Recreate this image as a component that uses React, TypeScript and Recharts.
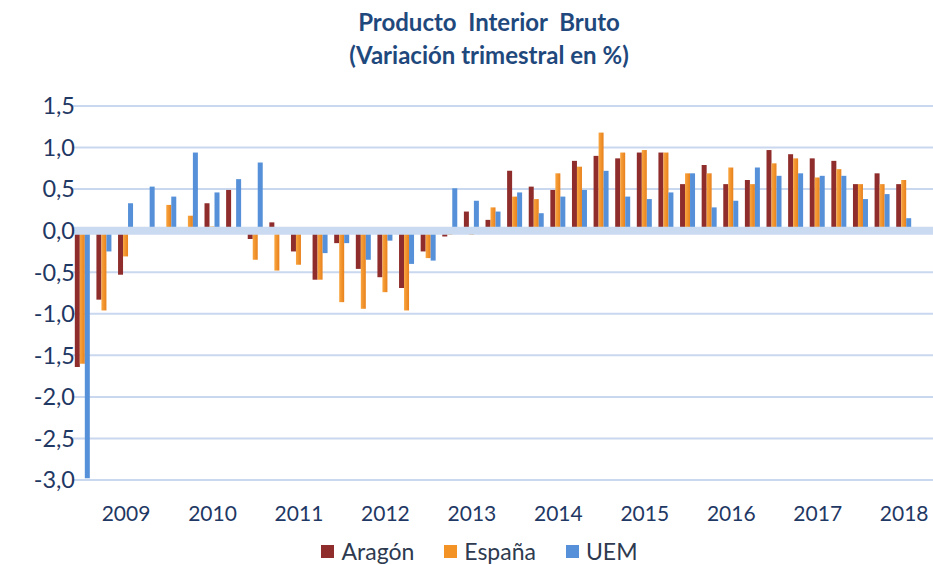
import React from "react";
import { BarChart, Bar, XAxis, YAxis, CartesianGrid, ReferenceLine, Legend } from "recharts";

const categories = [
  "2009 T1", "2009 T2", "2009 T3", "2009 T4",
  "2010 T1", "2010 T2", "2010 T3", "2010 T4",
  "2011 T1", "2011 T2", "2011 T3", "2011 T4",
  "2012 T1", "2012 T2", "2012 T3", "2012 T4",
  "2013 T1", "2013 T2", "2013 T3", "2013 T4",
  "2014 T1", "2014 T2", "2014 T3", "2014 T4",
  "2015 T1", "2015 T2", "2015 T3", "2015 T4",
  "2016 T1", "2016 T2", "2016 T3", "2016 T4",
  "2017 T1", "2017 T2", "2017 T3", "2017 T4",
  "2018 T1", "2018 T2", "2018 T3",
];

const aragon = [
  -1.64, -0.83, -0.53, -0.02,
  0.02, 0.02, 0.33, 0.49,
  -0.10, 0.10, -0.25, -0.59,
  -0.15, -0.46, -0.56, -0.69,
  -0.25, -0.07, 0.23, 0.13,
  0.72, 0.53, 0.49, 0.84,
  0.90, 0.87, 0.94, 0.94,
  0.56, 0.79, 0.56, 0.61,
  0.97, 0.92, 0.87, 0.84,
  0.56, 0.69, 0.56,
];

const espana = [
  -1.60, -0.96, -0.31, -0.03,
  0.31, 0.18, 0.05, 0.01,
  -0.35, -0.48, -0.41, -0.59,
  -0.86, -0.94, -0.74, -0.96,
  -0.33, -0.05, -0.05, 0.28,
  0.41, 0.38, 0.69, 0.77,
  1.18, 0.94, 0.97, 0.94,
  0.69, 0.69, 0.76, 0.56,
  0.81, 0.87, 0.64, 0.74,
  0.56, 0.56, 0.61,
];

const uem = [
  -2.98, -0.25, 0.33, 0.53,
  0.41, 0.94, 0.46, 0.62,
  0.82, 0.0, 0.0, -0.27,
  -0.15, -0.35, -0.12, -0.40,
  -0.36, 0.51, 0.36, 0.23,
  0.46, 0.21, 0.41, 0.49,
  0.72, 0.41, 0.38, 0.46,
  0.69, 0.28, 0.36, 0.76,
  0.66, 0.69, 0.66, 0.66,
  0.38, 0.44, 0.15,
];

const yTicks = [1.5, 1.0, 0.5, 0.0, -0.5, -1.0, -1.5, -2.0, -2.5, -3.0];

const seriesNames = ["Aragón", "España", "UEM"];
const seriesColors = ["#8E2D2B", "#F39325", "#5590D8"];

const data = categories.map((c, i) => ({
  cat: c,
  aragon: aragon[i],
  espana: espana[i],
  uem: uem[i],
}));

const NAVY = "#1F3864";
const FONT = "Lato, 'Open Sans', sans-serif";

const yearTick = (v: string) => (v.endsWith("T3") ? v.slice(0, 4) : "");

const LegendContent = () => (
  <div
    style={{
      display: "flex",
      justifyContent: "center",
      alignItems: "center",
      fontFamily: FONT,
      fontSize: 23,
      color: "#2E3A4F",
      paddingTop: 7,
      paddingLeft: 26,
    }}
  >
    {seriesNames.map((n, i) => (
      <div key={n} style={{ display: "flex", alignItems: "center", marginRight: i < 2 ? 30 : 0 }}>
        <div style={{ width: 13, height: 13, background: seriesColors[i], marginRight: 7 }} />
        <span>{n}</span>
      </div>
    ))}
  </div>
);

export default function App() {
  return (
    <div style={{ position: "absolute", left: 0, top: 0, width: 933, height: 565, background: "#fff", overflow: "hidden" }}>
      <div
        style={{
          position: "absolute",
          left: 239,
          top: 5,
          width: 500,
          textAlign: "center",
          fontFamily: FONT,
          fontWeight: 700,
          fontSize: 24,
          lineHeight: "33px",
          color: "#1F497D",
          whiteSpace: "pre",
        }}
      >
        <div>{"Producto  Interior  Bruto"}</div>
        <div>(Variación trimestral en %)</div>
      </div>
      <BarChart
        width={933}
        height={565}
        data={data}
        margin={{ top: 106, right: 0, bottom: 0, left: 0 }}
        barCategoryGap="13%"
        barGap={0}
      >
        <defs>
          <linearGradient id="gEsp" x1="0" y1="0" x2="1" y2="0">
            <stop offset="0%" stopColor="#F9A53F" />
            <stop offset="100%" stopColor="#E8811C" />
          </linearGradient>
        </defs>
        <CartesianGrid horizontal vertical={false} stroke="#C9D8EE" strokeWidth={2} />
        <XAxis
          dataKey="cat"
          interval={0}
          tickFormatter={yearTick}
          axisLine={false}
          tickLine={false}
          tickSize={0}
          tickMargin={26}
          height={50}
          padding={{ left: 0, right: 18 }}
          tick={{ fontSize: 21, fill: NAVY, fontFamily: FONT }}
        />
        <YAxis
          domain={[-3, 1.5]}
          ticks={yTicks}
          interval={0}
          tickFormatter={(v: number) => v.toFixed(1).replace(".", ",")}
          axisLine={false}
          tickLine={false}
          tickSize={0}
          tickMargin={-3}
          width={72}
          tick={{ fontSize: 23.5, fill: NAVY, fontFamily: FONT }}
        />
        <Legend verticalAlign="bottom" content={<LegendContent />} wrapperStyle={{ height: 35 }} />
        <Bar dataKey="aragon" name="Aragón" fill={seriesColors[0]} isAnimationActive={false} />
        <Bar dataKey="espana" name="España" fill="url(#gEsp)" isAnimationActive={false} />
        <Bar dataKey="uem" name="UEM" fill={seriesColors[2]} isAnimationActive={false} />
        <ReferenceLine y={0} stroke="#CADAF0" strokeWidth={8} />
      </BarChart>
    </div>
  );
}
